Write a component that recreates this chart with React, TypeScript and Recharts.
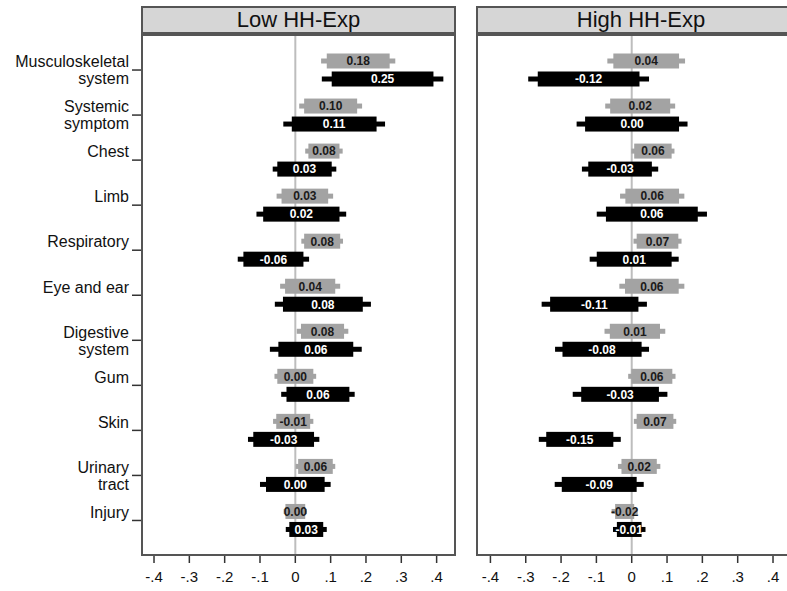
import React from 'react';
import { BarChart, Bar, XAxis, YAxis, CartesianGrid } from 'recharts';

const categories = [
  'Musculoskeletal\nsystem', 'Systemic\nsymptom', 'Chest', 'Limb', 'Respiratory',
  'Eye and ear', 'Digestive\nsystem', 'Gum', 'Skin', 'Urinary\ntract', 'Injury',
];

const xTicks = [-0.4, -0.3, -0.2, -0.1, 0, 0.1, 0.2, 0.3, 0.4];
const panelTitles = ['Low HH-Exp', 'High HH-Exp'];

// Low HH-Exp: grey series
const lowGreyEst = [0.178, 0.100, 0.081, 0.027, 0.076, 0.042, 0.077, 0.000, -0.006, 0.057, 0.000];
const lowGreyHw90 = [0.089, 0.075, 0.044, 0.066, 0.051, 0.071, 0.061, 0.051, 0.048, 0.049, 0.028];
const lowGreyHw95 = [0.105, 0.089, 0.053, 0.080, 0.059, 0.085, 0.073, 0.059, 0.057, 0.056, 0.033];
// Low HH-Exp: black series
const lowBlackEst = [0.247, 0.110, 0.026, 0.017, -0.062, 0.078, 0.058, 0.064, -0.033, 0.000, 0.031];
const lowBlackHw90 = [0.144, 0.120, 0.077, 0.108, 0.085, 0.113, 0.106, 0.089, 0.086, 0.083, 0.048];
const lowBlackHw95 = [0.172, 0.144, 0.090, 0.127, 0.101, 0.136, 0.130, 0.104, 0.101, 0.100, 0.058];

// High HH-Exp: grey series
const highGreyEst = [0.041, 0.024, 0.060, 0.058, 0.073, 0.057, 0.009, 0.057, 0.066, 0.021, -0.020];
const highGreyHw90 = [0.093, 0.085, 0.053, 0.076, 0.059, 0.076, 0.071, 0.058, 0.052, 0.050, 0.027];
const highGreyHw95 = [0.110, 0.099, 0.061, 0.091, 0.068, 0.092, 0.086, 0.067, 0.060, 0.060, 0.037];
// High HH-Exp: black series
const highBlackEst = [-0.122, 0.001, -0.033, 0.057, 0.007, -0.106, -0.084, -0.033, -0.147, -0.092, -0.007];
const highBlackHw90 = [0.144, 0.133, 0.090, 0.130, 0.106, 0.125, 0.112, 0.110, 0.095, 0.106, 0.035];
const highBlackHw95 = [0.171, 0.157, 0.108, 0.156, 0.126, 0.149, 0.133, 0.134, 0.116, 0.126, 0.046];

const FONT = '"Liberation Sans", Arial, sans-serif';
const GREY = '#a3a3a3';
const FRAME = '#555';

const buildRows = (gEst, gHw90, gHw95, bEst, bHw90, bHw95) =>
  categories.map((cat, i) => ({
    cat,
    gEst: gEst[i], gLo90: gEst[i] - gHw90[i], gHi90: gEst[i] + gHw90[i],
    gLo95: gEst[i] - gHw95[i], gHi95: gEst[i] + gHw95[i],
    bEst: bEst[i], bLo90: bEst[i] - bHw90[i], bHi90: bEst[i] + bHw90[i],
    bLo95: bEst[i] - bHw95[i], bHi95: bEst[i] + bHw95[i],
  }));

const lowRows = buildRows(lowGreyEst, lowGreyHw90, lowGreyHw95, lowBlackEst, lowBlackHw90, lowBlackHw95);
const highRows = buildRows(highGreyEst, highGreyHw90, highGreyHw95, highBlackEst, highBlackHw90, highBlackHw95);

const fmtTick = (v: number) => (v === 0 ? '0' : v.toFixed(1).replace('0.', '.'));

// draws thin 95% whisker, thick 90% box and the estimate label
const makeShape = (p: string, fill: string, textFill: string) => (props: any) => {
  const { x, y, width, height, payload } = props;
  const lo95 = payload[p + 'Lo95'];
  const hi95 = payload[p + 'Hi95'];
  const k = width / (hi95 - lo95);
  const tx = x + (payload[p + 'Lo90'] - lo95) * k;
  const tw = (payload[p + 'Hi90'] - payload[p + 'Lo90']) * k;
  const cy = y + height / 2;
  return (
    <g>
      <rect x={x} y={cy - 2.5} width={width} height={5} fill={fill} />
      <rect x={tx} y={y} width={tw} height={height} fill={fill} />
      <text x={x + (payload[p + 'Est'] - lo95) * k} y={cy} dy="0.36em" textAnchor="middle"
        fontSize={12} fontWeight="bold" fontFamily={FONT} fill={textFill}>
        {payload[p + 'Est'].toFixed(2)}
      </text>
    </g>
  );
};

const CatTick = (props: any) => {
  const { x, y, payload } = props;
  const lines = String(payload.value).split('\n');
  return (
    <text x={x} y={y} textAnchor="end" fontSize={16} fontFamily={FONT} fill="#111">
      {lines.map((l, i) => (
        <tspan key={i} x={x} y={y - 8.5 + i * 17} dy="0.36em">{l}</tspan>
      ))}
    </text>
  );
};

// zero line, drawn as a grid line so it stays behind the bars
const makeZeroLine = (domain: number[]) => (props: any) => {
  const s = props && props.xAxis && props.xAxis.scale;
  if (typeof s === 'function') return [s(0)];
  if (s && typeof s.map === 'function') return [s.map(0)];
  const o = props.offset;
  return [o.left + ((0 - domain[0]) / (domain[1] - domain[0])) * o.width];
};

const Panel = ({ rows, domain, showY, left, width, title, plotLeft, plotWidth }: any) => (
  <>
    <div style={{
      position: 'absolute', left: plotLeft, top: 6, width: plotWidth, height: 28, boxSizing: 'border-box',
      background: '#d6d6d6', border: `2px solid ${FRAME}`, fontFamily: FONT, fontSize: 22,
      color: '#111', textAlign: 'center', lineHeight: '24px',
    }}>{title}</div>
    <div style={{ position: 'absolute', left, top: 0 }}>
      <BarChart width={width} height={591} data={rows} layout="vertical"
        margin={{ top: 34, right: 0, bottom: 0, left: 0 }} barSize={15} barGap={3}>
        <CartesianGrid horizontal={false} stroke="#bdbdbd" strokeWidth={2}
          verticalCoordinatesGenerator={makeZeroLine(domain)} />
        <XAxis type="number" domain={domain} allowDataOverflow ticks={xTicks} tickFormatter={fmtTick}
          height={36} axisLine={false} tickSize={8} tickMargin={8} interval={0}
          tickLine={{ stroke: '#333', strokeWidth: 1.5 }}
          tick={{ fontSize: 15, fill: '#111', fontFamily: FONT }} />
        <YAxis type="category" dataKey="cat" hide={!showY} width={142} axisLine={false}
          tickSize={10} tickMargin={3} interval={0} padding={{ top: 13.5, bottom: 12 }}
          tickLine={{ stroke: '#333', strokeWidth: 1.5 }} tick={<CatTick />} />
        <Bar dataKey={(d: any) => [d.gLo95, d.gHi95]} fill={GREY} isAnimationActive={false}
          shape={makeShape('g', GREY, '#1a1a1a')} />
        <Bar dataKey={(d: any) => [d.bLo95, d.bHi95]} fill="#000" isAnimationActive={false}
          shape={makeShape('b', '#000', '#fff')} />
      </BarChart>
    </div>
    <div style={{
      position: 'absolute', left: plotLeft, top: 34, width: plotWidth, height: 522,
      boxSizing: 'border-box', border: `2px solid ${FRAME}`, pointerEvents: 'none',
    }} />
  </>
);

export default function App() {
  return (
    <div style={{ position: 'absolute', left: 0, top: 0, width: 787, height: 591, overflow: 'hidden', background: '#fff' }}>
      <Panel rows={lowRows} domain={[-0.434, 0.452]} showY left={0} width={455}
        title={panelTitles[0]} plotLeft={141} plotWidth={315} />
      <Panel rows={highRows} domain={[-0.438, 0.4396]} showY={false} left={477} width={310}
        title={panelTitles[1]} plotLeft={476} plotWidth={330} />
    </div>
  );
}
